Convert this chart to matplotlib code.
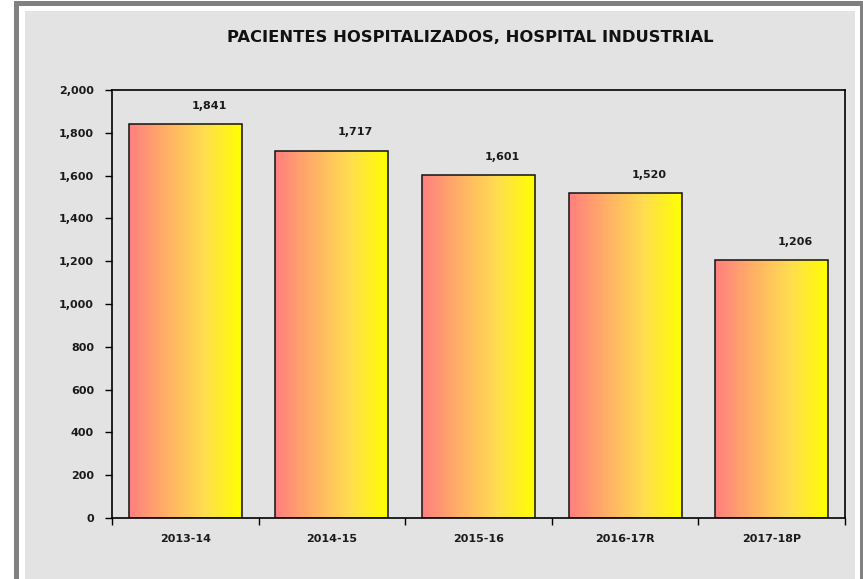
import numpy as np
import matplotlib
matplotlib.use("Agg")
from matplotlib import pyplot as plt
from matplotlib.colors import LinearSegmentedColormap
from matplotlib.patches import Rectangle

# data
periodos = ["2013-14", "2014-15", "2015-16", "2016-17R", "2017-18P"]
pacientes = [1841, 1717, 1601, 1520, 1206]
titulo = "PACIENTES HOSPITALIZADOS, HOSPITAL INDUSTRIAL"

W, H = 863, 579
fig = plt.figure(figsize=(W / 100, H / 100), dpi=100)
fig.patch.set_facecolor("white")

# outer frame (bottom edge falls outside the image) and grey chart area
fig.patches.append(Rectangle((15.5 / W, 1 - 600 / H), (862 - 15.5) / W, (600 - 2.5) / H,
                             transform=fig.transFigure, facecolor="none",
                             edgecolor="#808080", linewidth=3.6, zorder=-10))
fig.patches.append(Rectangle((25 / W, 1 - 590 / H), (855 - 25) / W, (590 - 11) / H,
                             transform=fig.transFigure, facecolor="#e3e3e3",
                             edgecolor="none", zorder=-9))

ax = fig.add_axes([112 / W, 1 - 518 / H, (845 - 112) / W, (518 - 90) / H])
ax.set_facecolor("#e3e3e3")

x = np.arange(len(periodos))
bars = ax.bar(x, pacientes, width=0.77, facecolor="none", edgecolor="#111111",
              linewidth=1.1, zorder=3)

cmap = LinearSegmentedColormap.from_list("grad", ["#ff7f7f", "#ffb066", "#ffdd50", "#ffff00"])
grad = np.linspace(0, 1, 256).reshape(1, -1)
for b in bars:
    bx, by = b.get_x(), b.get_y()
    im = ax.imshow(grad, cmap=cmap, aspect="auto", zorder=2,
                   extent=(bx, bx + b.get_width(), by, by + b.get_height()))
    im.set_clip_path(b)

# value labels sit a little to the right of bar centre, like the original
for xi, v in zip(x, pacientes):
    ax.annotate(f"{v:,}", (xi, v), xytext=(17, 9.5), textcoords="offset points",
                ha="center", va="bottom", fontsize=8, fontweight="bold", color="#1a1a1a")

ax.set_xlim(-0.5, len(periodos) - 0.5)
ax.set_ylim(0, 2000)
ax.set_yticks(np.arange(0, 2001, 200))
ax.set_yticklabels([f"{t:,}" for t in range(0, 2001, 200)])
ax.set_xticks(x)
ax.set_xticklabels(periodos)
ax.set_xticks(np.arange(-0.5, len(periodos)), minor=True)
ax.tick_params(axis="x", which="major", length=0, pad=11.5)
ax.tick_params(axis="x", which="minor", length=5, width=1, direction="out")
ax.tick_params(axis="y", length=5, width=1, direction="out", pad=8)
for lab in ax.get_xticklabels() + ax.get_yticklabels():
    lab.set_fontsize(8)
    lab.set_fontweight("bold")
    lab.set_color("#1a1a1a")
for s in ax.spines.values():
    s.set_linewidth(1.2)
    s.set_color("black")

fig.text(470 / W, 1 - 38 / H, titulo, ha="center", va="center",
         fontsize=11.8, fontweight="bold", color="#111111")

fig.savefig("out.png", dpi=100)
